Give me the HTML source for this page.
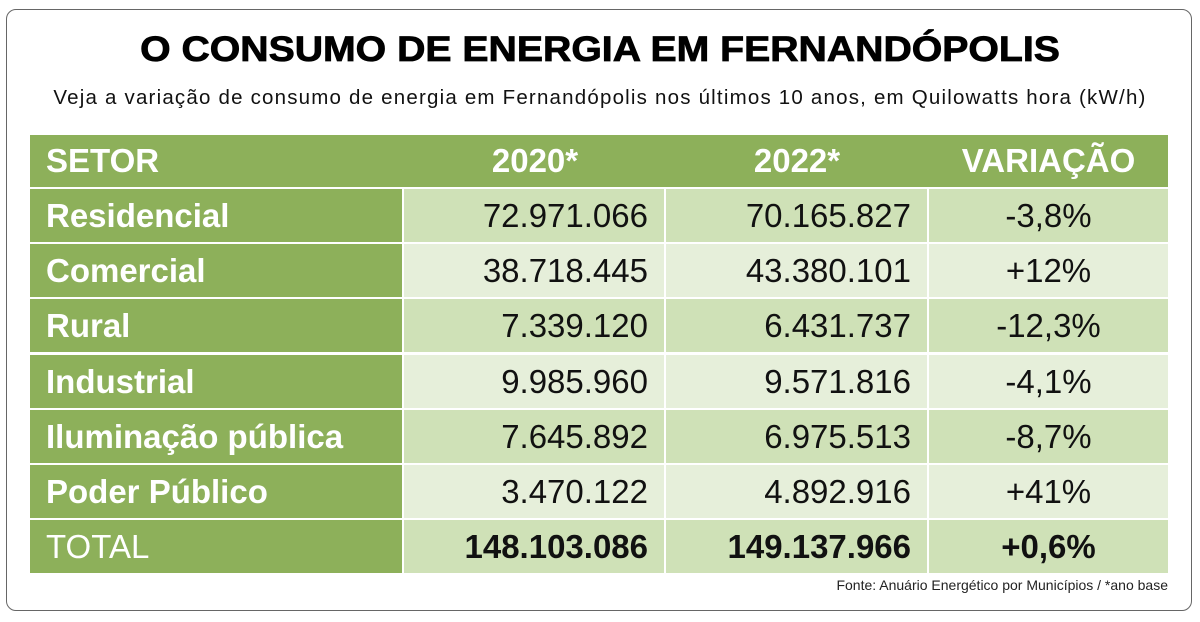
<!DOCTYPE html>
<html><head><meta charset="utf-8"><style>
body{margin:0;width:1200px;height:622px;background:#fff;font-family:"Liberation Sans",sans-serif;position:relative;overflow:hidden}
.box{position:absolute;left:6px;top:9px;width:1186px;height:602px;border:1.5px solid #666;border-radius:10px;box-sizing:border-box}
h1{position:absolute;left:0;width:1200px;top:30px;margin:0;text-align:center;font-size:35px;font-weight:900;color:#000;transform:scaleX(1.12);-webkit-text-stroke:0.8px #000}
.sub{position:absolute;left:0;width:1200px;top:86px;text-align:center;font-size:20.5px;letter-spacing:1.2px;color:#111}
.c{position:absolute;height:53px;line-height:53px;font-size:33px;box-sizing:border-box;white-space:nowrap}
.s{background:#8db05a;color:#fff;font-weight:bold;padding-left:16px}
.h{background:#8db05a;color:#fff;text-align:center}
.n{text-align:right;padding-right:16px;color:#111}
.v{text-align:center;color:#111}
.fonte{position:absolute;right:32px;top:577px;font-size:14px;color:#222}
</style></head><body>
<div class="box"></div>
<h1>O CONSUMO DE ENERGIA EM FERNANDÓPOLIS</h1>
<div class="sub">Veja a variação de consumo de energia em Fernandópolis nos últimos 10 anos, em Quilowatts hora (kW/h)</div>
<div class="c s" style="left:30px;top:135px;width:1138px;height:52px;line-height:52px;background:#8db05a">SETOR</div>
<div class="c h" style="left:404px;top:135px;width:262px;height:52px;line-height:52px;font-weight:bold">2020*</div>
<div class="c h" style="left:666px;top:135px;width:262px;height:52px;line-height:52px;font-weight:bold">2022*</div>
<div class="c h" style="left:929px;top:135px;width:239px;height:52px;line-height:52px;font-weight:bold">VARIAÇÃO</div>
<div id="rows"></div>
<script>
var d=[["Residencial","72.971.066","70.165.827","-3,8%"],["Comercial","38.718.445","43.380.101","+12%"],["Rural","7.339.120","6.431.737","-12,3%"],["Industrial","9.985.960","9.571.816","-4,1%"],["Iluminação pública","7.645.892","6.975.513","-8,7%"],["Poder Público","3.470.122","4.892.916","+41%"],["TOTAL","148.103.086","149.137.966","+0,6%"]];
var h="";d.forEach(function(r,i){var y=189+i*55.2,bg=(i%2==0)?"#cfe1b7":"#e6efda";var t=i==6;
h+='<div class="c s" style="left:30px;top:'+y+'px;width:372px;'+(t?'font-weight:normal':'')+'">'+r[0]+'</div>';
h+='<div class="c n" style="left:404px;top:'+y+'px;width:260px;background:'+bg+';'+(t?'font-weight:bold':'')+'">'+r[1]+'</div>';
h+='<div class="c n" style="left:666px;top:'+y+'px;width:261px;background:'+bg+';'+(t?'font-weight:bold':'')+'">'+r[2]+'</div>';
h+='<div class="c v" style="left:929px;top:'+y+'px;width:239px;background:'+bg+';'+(t?'font-weight:bold':'')+'">'+r[3]+'</div>';});
document.getElementById("rows").innerHTML=h;
</script>
<div class="fonte">Fonte: Anuário Energético por Municípios / *ano base</div>
</body></html>
